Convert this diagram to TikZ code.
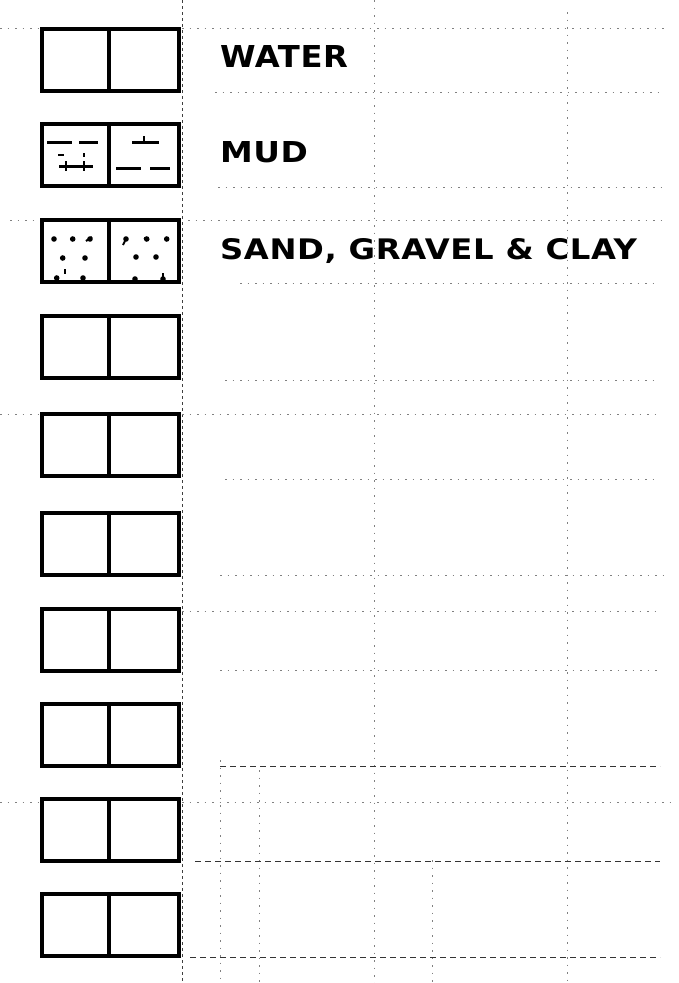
\documentclass[tikz,border=0pt]{standalone}
\usepackage{fontspec}
\usepackage{graphicx}
\newfontfamily\lettering{DejaVu Sans}[LetterSpace=2]
\begin{document}
\begin{tikzpicture}[x=1pt,y=-1pt,
  cellbox/.style={draw=black,line width=4.5pt,rectangle,minimum width=137pt,minimum height=62pt,inner sep=0pt,outer sep=0pt},
  divider/.style={draw=black,line width=3.5pt},
  faintgrid/.style={draw=black!50,line width=0.6pt,dash pattern=on 1.5pt off 6pt},
  edgegrid/.style={draw=black!75,line width=0.8pt,dash pattern=on 3pt off 3pt},
  strongrid/.style={draw=black!80,line width=0.8pt,dash pattern=on 6pt off 4pt},
  mudline/.style={draw=black,line width=3pt},
  sanddot/.style={fill=black},
  label/.style={anchor=base west,inner sep=0pt,outer sep=0pt}
]
\useasboundingbox (0,0) rectangle (679,983);
\fill[white] (0,0) rectangle (679,983);

% faint grid: verticals
\draw[edgegrid] (182,0) -- (182,983);
\draw[faintgrid] (374,0) -- (374,983);
\draw[faintgrid] (567,12) -- (567,983);
\draw[faintgrid] (220,760) -- (220,983);
\draw[faintgrid] (259,770) -- (259,983);
\draw[faintgrid] (432,860) -- (432,983);

% faint grid: horizontals
\draw[faintgrid] (0,28) -- (40,28);
\draw[faintgrid] (182,28) -- (665,28);
\draw[faintgrid] (215,92) -- (662,92);
\draw[faintgrid] (218,187) -- (662,187);
\draw[faintgrid] (10,220) -- (40,220);
\draw[faintgrid] (188,220) -- (662,220);
\draw[faintgrid] (240,283) -- (660,283);
\draw[faintgrid] (225,380) -- (660,380);
\draw[faintgrid] (0,414) -- (40,414);
\draw[faintgrid] (182,414) -- (660,414);
\draw[faintgrid] (225,479) -- (660,479);
\draw[faintgrid] (220,575) -- (665,575);
\draw[faintgrid] (182,611) -- (660,611);
\draw[faintgrid] (220,670) -- (660,670);
\draw[faintgrid] (0,802) -- (40,802);
\draw[faintgrid] (182,802) -- (670,802);
\draw[strongrid] (220,766) -- (660,766);
\draw[strongrid] (195,861) -- (660,861);
\draw[strongrid] (190,957) -- (660,957);

% boxes
\foreach \i/\t in {1/27,2/122,3/218,4/314,5/412,6/511,7/607,8/702,9/797,10/892}{
  \node[cellbox] (b\i) at (110.5,\t+33) {};
  \draw[divider] ([xshift=-1.5pt]b\i.north) -- ([xshift=-1.5pt]b\i.south);
}

% mud pattern
\draw[mudline] (47,142) -- (72,142);
\draw[mudline] (79,142) -- (98,142);
\draw[mudline] (59,166) -- (93,166);
\draw[black,line width=1.2pt] (58,155) -- (64,155);
\draw[black,line width=1.2pt] (84,153) -- (84,157);
\draw[black,line width=1.2pt] (66,161) -- (66,171);
\draw[black,line width=1.2pt] (84,161) -- (84,171);
\draw[mudline] (132,142) -- (159,142);
\draw[black,line width=1.2pt] (144,136) -- (144,142);
\draw[mudline] (116,168) -- (141,168);
\draw[mudline] (150,168) -- (170,168);

% sand pattern
\foreach \p in {(54,239),(72.7,239),(90,239),(62.7,258),(85,258),(56.7,278),(83,278),
                (126,239),(146.7,239),(166.7,239),(136,257),(156,257),(135,279),(163,279)}{
  \fill[sanddot] \p circle (2.8pt);
}
\draw[black,line width=2pt] (86,241) -- (92,237);
\draw[black,line width=2pt] (125,241) -- (123,245);
\draw[black,line width=2pt] (144,238) -- (149,240);
\draw[black,line width=1.4pt] (65,269) -- (65,274);
\draw[black,line width=1.4pt] (163,273) -- (163,277);

% labels
\node[label] (water) at (220,67) {\resizebox{128pt}{22pt}{\lettering\bfseries WATER}};
\node[label] (mud) at (220,162) {\resizebox{88pt}{21pt}{\lettering\bfseries MUD}};
\node[label] (sand) at (220,259) {\resizebox{417pt}{21pt}{\lettering\bfseries SAND, GRAVEL \& CLAY}};
\end{tikzpicture}
\end{document}
